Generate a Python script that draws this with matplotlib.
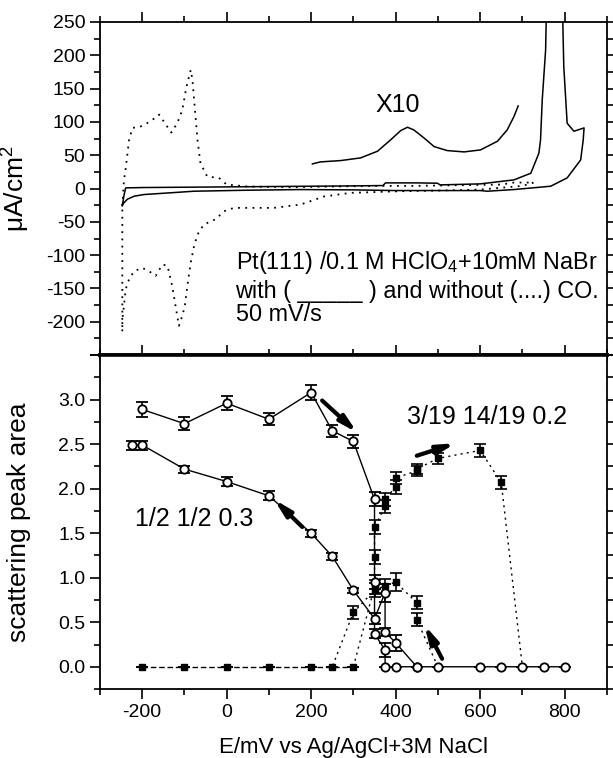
import matplotlib

matplotlib.use("Agg")
import matplotlib.pyplot as plt
from matplotlib.ticker import MultipleLocator, FuncFormatter

plt.rcParams["font.family"] = ["Liberation Sans", "DejaVu Sans"]
plt.rcParams["mathtext.fontset"] = "custom"
plt.rcParams["mathtext.rm"] = "Liberation Sans"
plt.rcParams["axes.unicode_minus"] = False

# --- top panel: cyclic voltammograms (uA/cm2 vs mV) ---
cv_noco_E = [-247, -243, -239, -231, -223, -204, -180, -160, -144, -131, -117, -105,
             -95, -85, -81, -75, -69, -62, -46, -18, 0, 50, 150, 250, 350, 450, 550,
             650, 680, 727, 700, 601, 500, 412, 293, 230, 175, 112, 17, -6, -26, -54,
             -69, -77, -85, -93, -99, -105, -113, -121, -129, -140, -152, -168, -184,
             -200, -219, -231, -239, -243, -247, -247, -247]
cv_noco_I = [-26, 13, 30, 73, 91, 93, 101, 111, 96, 84, 98, 118,
             153, 178, 163, 118, 73, 38, 18, 16, 6, 3, 2, 3, 4, 4, 5,
             6, 9, 9, 4, -1.5, -3, -4, -6.5, -12, -24, -29, -29, -34, -46, -54,
             -69, -86, -111, -146, -176, -191, -206, -176, -146, -116, -114, -131, -124,
             -119, -124, -136, -151, -176, -196, -215, -26]

cv_co_E = [-247, -243, -239, -200, -100, 0, 100, 200, 300, 370, 376, 450, 499, 505,
           600, 680, 720, 739, 743, 747, 755, 757, 795, 798, 806, 822, 846, 844, 838,
           806, 767, 680, 617, 600, 500, 400, 300, 175, 49, -77, -196, -219, -235, -247]
cv_co_I = [-26, -10, 1, 1.5, 2, 2.5, 3, 3.5, 4, 4.5, 8.5, 8.5, 8, 5.5,
           7, 13, 23, 53, 73, 133, 208, 270, 270, 183, 98, 86, 91, 73, 43,
           16, 3.5, -1.5, -4, -3, -3, -3, -2, -1.5, -2.5, -4, -9, -11.5, -16, -24]

x10_E = [203, 222, 270, 317, 357, 388, 412, 428, 443, 467, 491, 522, 562, 601, 641,
         664, 680, 690]
x10_I = [37, 40, 42, 46, 56, 73, 87, 92, 88, 76, 63, 57, 55, 58, 71, 88, 108, 124]

# --- bottom panel: scattering peak areas ---
half_pos_E = [-200, -100, 0, 100, 200, 250, 300, 350, 350, 350, 375, 375,
              400, 450, 500, 600, 650, 700, 750, 800]
half_pos_v = [2.89, 2.73, 2.96, 2.78, 3.08, 2.65, 2.53, 1.88, 0.95, 0.37, 0.19, 0.0,
              0, 0, 0, 0, 0, 0, 0, 0]
half_pos_err = [0.08, 0.07, 0.08, 0.07, 0.08, 0.07, 0.07, 0.08, 0.08, 0.05, 0.08, 0,
                0, 0, 0, 0, 0, 0, 0, 0]

half_neg_E = [450, 400, 375, 375, 350, 300, 250, 200, 100, 0, -100, -200, -225]
half_neg_v = [0.0, 0.27, 0.39, 0.83, 0.54, 0.86, 1.24, 1.50, 1.92, 2.08, 2.22, 2.49, 2.49]
half_neg_err = [0, 0.09, 0.05, 0.1, 0.06, 0.03, 0.04, 0.04, 0.05, 0.05, 0.04, 0.05, 0.05]

frac_pos_E = [-200, -100, 0, 100, 200, 250, 300, 350, 350, 350, 375, 375, 400, 400,
              450, 450, 500, 600, 650, 700]
frac_pos_v = [0, 0, 0, 0, 0, 0, 0, 0.9, 1.23, 1.57, 1.80, 1.88, 2.02, 2.12,
              2.20, 2.22, 2.34, 2.43, 2.07, 0]
frac_pos_err = [0, 0, 0, 0, 0, 0, 0, 0.08, 0.08, 0.08, 0.07, 0.07, 0.08, 0.07,
                0.06, 0.06, 0.06, 0.07, 0.07, 0]

frac_neg_E = [500, 450, 450, 400, 375, 350, 300, 250]
frac_neg_v = [0.0, 0.53, 0.72, 0.95, 0.91, 0.86, 0.61, 0.0]
frac_neg_err = [0, 0.07, 0.07, 0.1, 0.08, 0.08, 0.07, 0]

# arrows (tail -> head) in data coords of the bottom panel
arrows = [((226, 2.99), (309, 2.63)),
          ((179, 1.57), (112, 1.88)),
          ((450, 2.37), (542, 2.51)),
          ((510, 0.09), (468, 0.47))]

fig = plt.figure(figsize=(6.13, 7.58), dpi=100)
ax1 = fig.add_axes([0.163, 0.5315, 0.827, 0.4395])
ax2 = fig.add_axes([0.163, 0.091, 0.827, 0.4405])

for ax in (ax1, ax2):
    ax.set_xlim(-300, 900)
    ax.xaxis.set_major_locator(MultipleLocator(200))
    ax.xaxis.set_minor_locator(MultipleLocator(100))
    ax.tick_params(which="both", direction="out", top=True, right=True, width=1.2,
                   labelsize=14)
    ax.tick_params(which="major", length=7)
    ax.tick_params(which="minor", length=4.5)
    for s in ax.spines.values():
        s.set_linewidth(1.3)

ax1.spines["bottom"].set_linewidth(2.6)
ax2.spines["top"].set_linewidth(2.6)

# top panel
ax1.set_ylim(-250, 250)
ax1.yaxis.set_major_locator(MultipleLocator(50))
ax1.yaxis.set_minor_locator(MultipleLocator(25))
ax1.yaxis.set_major_formatter(FuncFormatter(lambda v, p: "" if v < -240 else f"{v:.0f}"))
ax1.tick_params(labelbottom=False)
ax1.plot(cv_noco_E, cv_noco_I, color="k", lw=1.3, ls=(0, (1, 3)))
ax1.plot(cv_co_E, cv_co_I, color="k", lw=1.1)
ax1.plot(x10_E, x10_I, color="k", lw=1.1)
ax1.text(405, 125, "X10", fontsize=18, ha="center", va="center")
ax1.text(21, -111, r"Pt(111) /0.1 M HClO$_4$+10mM NaBr", fontsize=16.8, va="center")
ax1.text(21, -154, "with ( _____ ) and without (....) CO.", fontsize=16.8, va="center")
ax1.text(21, -189, "50 mV/s", fontsize=16.8, va="center")
ax1.set_ylabel(r"μA/cm$^2$", fontsize=19)
ax1.yaxis.set_label_coords(-0.135, 0.5)

# bottom panel
ax2.set_ylim(-0.25, 3.5)
ax2.yaxis.set_major_locator(MultipleLocator(0.5))
ax2.yaxis.set_minor_locator(MultipleLocator(0.25))
ax2.yaxis.set_major_formatter(FuncFormatter(lambda v, p: "" if v > 3.4 else f"{v:.1f}"))

open_kw = dict(marker="o", ms=6, mfc="white", mec="k", mew=1.3, color="k",
               capsize=4.5, elinewidth=1.2, capthick=1.2)
fill_kw = dict(marker="s", ms=5, mfc="k", mec="k", color="k",
               capsize=4.5, elinewidth=1.2, capthick=1.2)

n0 = 7
ax2.plot(frac_pos_E[:n0], frac_pos_v[:n0], color="k", lw=1.0, ls=(0, (4, 2)))
ax2.plot(frac_pos_E[n0 - 1:], frac_pos_v[n0 - 1:], color="k", lw=1.0, ls=(0, (1.5, 3)))
ax2.errorbar(frac_pos_E[:-1], frac_pos_v[:-1], yerr=frac_pos_err[:-1], ls="none",
             **fill_kw)
ax2.plot(frac_neg_E, frac_neg_v, color="k", lw=1.0, ls=(0, (1.5, 3)))
ax2.errorbar(frac_neg_E[1:-1], frac_neg_v[1:-1], yerr=frac_neg_err[1:-1], ls="none",
             **fill_kw)

ax2.errorbar(half_pos_E, half_pos_v, yerr=half_pos_err, lw=1.0, **open_kw)
ax2.errorbar(half_neg_E, half_neg_v, yerr=half_neg_err, lw=1.0, **open_kw)

for tail, head in arrows:
    ax2.annotate("", xy=head, xytext=tail,
                 arrowprops=dict(arrowstyle="-|>,head_length=1.0,head_width=0.25",
                                 lw=3, color="k", shrinkA=0, shrinkB=0))

ax2.text(426, 2.81, "3/19 14/19 0.2", fontsize=18, va="center")
ax2.text(-218, 1.66, "1/2 1/2 0.3", fontsize=18, va="center")

ax2.set_ylabel("scattering peak area", fontsize=19)
ax2.yaxis.set_label_coords(-0.135, 0.5)
ax2.set_xlabel("E/mV vs Ag/AgCl+3M NaCl", fontsize=16, labelpad=12)

fig.savefig("out.png", dpi=100)
